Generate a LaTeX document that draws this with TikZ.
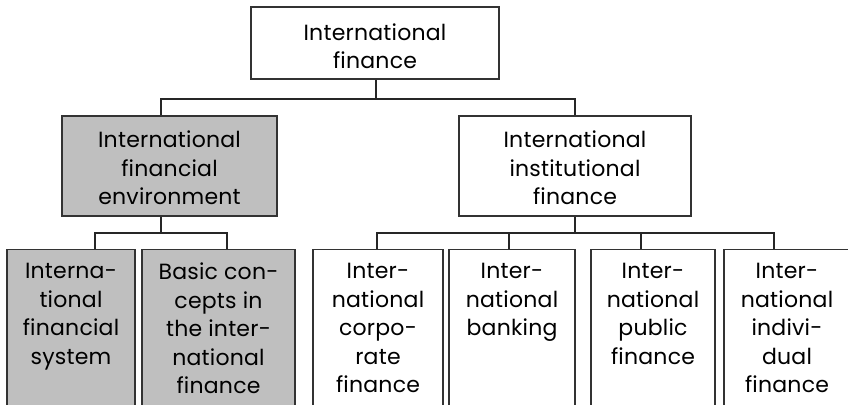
\documentclass[tikz,border=0pt]{standalone}
\usepackage{fontspec}
\setmainfont{Poppins}[LetterSpace=1]
\begin{document}
\begin{tikzpicture}[x=1pt,y=-1pt,
  box/.style={draw=black!80, line width=1.4pt, fill=white, inner sep=0pt},
  graybox/.style={box, fill=gray!50},
  txt/.style={align=center, inner sep=0pt, font=\fontsize{22}{28.5}\selectfont},
  conn/.style={draw=black!85, line width=1.2pt}]
\useasboundingbox (0,0) rectangle (848,404);
\clip (0,0) rectangle (848,404);
% level 0
\node[box, minimum width=248pt, minimum height=72pt] (top) at (375,43) {};
\node[txt] (ttop) at ([yshift=-3pt]top.center) {International\\finance};
% level 1
\node[graybox, minimum width=215pt, minimum height=100pt] (env) at (169.5,166) {};
\node[txt] (tenv) at ([yshift=-2pt]env.center) {International\\financial\\environment};
\node[box, minimum width=232pt, minimum height=100pt] (inst) at (575,166) {};
\node[txt] (tinst) at ([yshift=-2pt]inst.center) {International\\institutional\\finance};
% level 2
\node[graybox, anchor=north, minimum width=128pt, minimum height=200pt] (b1) at (71,249) {};
\node[graybox, anchor=north, minimum width=153pt, minimum height=200pt] (b2) at (218.5,249) {};
\node[box, anchor=north, minimum width=130pt, minimum height=200pt] (b3) at (378,249) {};
\node[box, anchor=north, minimum width=126pt, minimum height=200pt] (b4) at (512,249) {};
\node[box, anchor=north, minimum width=124pt, minimum height=200pt] (b5) at (653,249) {};
\node[box, anchor=north, minimum width=126pt, minimum height=200pt] (b6) at (787,249) {};
\node[txt, anchor=north] (t1) at ([yshift=-14pt]b1.north) {Interna-\\tional\\financial\\system};
\node[txt, anchor=north] (t2) at ([yshift=-14pt]b2.north) {Basic con-\\cepts in\\the inter-\\national\\finance};
\node[txt, anchor=north] (t3) at ([yshift=-14pt]b3.north) {Inter-\\national\\corpo-\\rate\\finance};
\node[txt, anchor=north] (t4) at ([yshift=-14pt]b4.north) {Inter-\\national\\banking};
\node[txt, anchor=north] (t5) at ([yshift=-14pt]b5.north) {Inter-\\national\\public\\finance};
\node[txt, anchor=north] (t6) at ([yshift=-14pt]b6.north) {Inter-\\national\\indivi-\\dual\\finance};
% junctions
\coordinate (j0) at (376,99);
\coordinate (j1) at (161,233);
\coordinate (j2) at (575,233);
% connectors
\draw[conn] ([xshift=1pt]top.south) -- (j0);
\draw[conn] (j0) -| ([xshift=-8.5pt]env.north);
\draw[conn] (j0) -| (inst.north);
\draw[conn] ([xshift=-8.5pt]env.south) -- (j1);
\draw[conn] (j1) -| ([xshift=24pt]b1.north);
\draw[conn] (j1) -| ([xshift=8.5pt]b2.north);
\draw[conn] (inst.south) -- (j2);
\draw[conn] (j2) -| ([xshift=-1pt]b3.north);
\draw[conn] (j2) -| ([xshift=-3pt]b4.north);
\draw[conn] (j2) -| ([xshift=-12pt]b5.north);
\draw[conn] (j2) -| ([xshift=-13pt]b6.north);
\end{tikzpicture}
\end{document}
